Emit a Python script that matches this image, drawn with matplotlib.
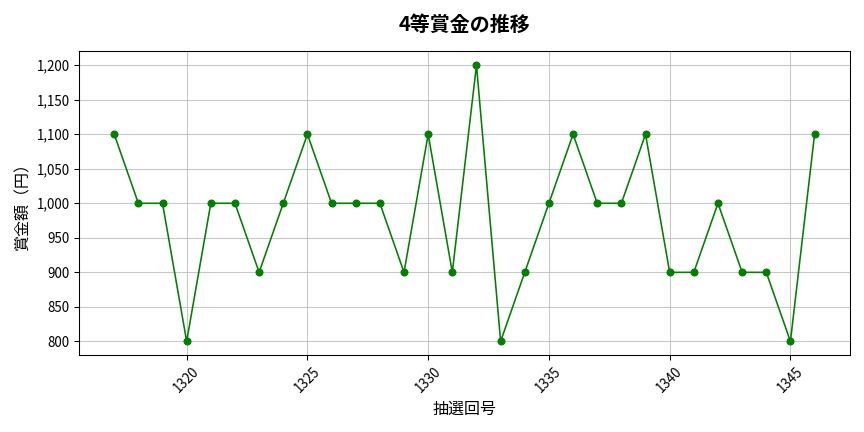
import matplotlib.pyplot as plt
from matplotlib.ticker import FuncFormatter

plt.rcParams['font.family'] = ['Noto Sans CJK JP', 'DejaVu Sans']

draws = list(range(1317, 1347))
prizes = [1100, 1000, 1000, 800, 1000, 1000, 900, 1000, 1100, 1000,
          1000, 1000, 900, 1100, 900, 1200, 800, 900, 1000, 1100,
          1000, 1000, 1100, 900, 900, 1000, 900, 900, 800, 1100]

fig, ax = plt.subplots(figsize=(9, 4.5), dpi=96)
ax.plot(draws, prizes, color='green', marker='o', markersize=5, linewidth=1.2)
ax.set_title('4等賞金の推移', fontsize=15, fontweight='bold', pad=15)
ax.set_xlabel('抽選回号', fontsize=12)
ax.set_ylabel('賞金額（円）', fontsize=12)
ax.yaxis.set_major_formatter(FuncFormatter(lambda v, p: f'{int(v):,}'))
ax.grid(True, alpha=0.7)
plt.setp(ax.get_xticklabels(), rotation=45)
ax.tick_params(labelsize=10)
fig.tight_layout()
fig.savefig('out.png')
